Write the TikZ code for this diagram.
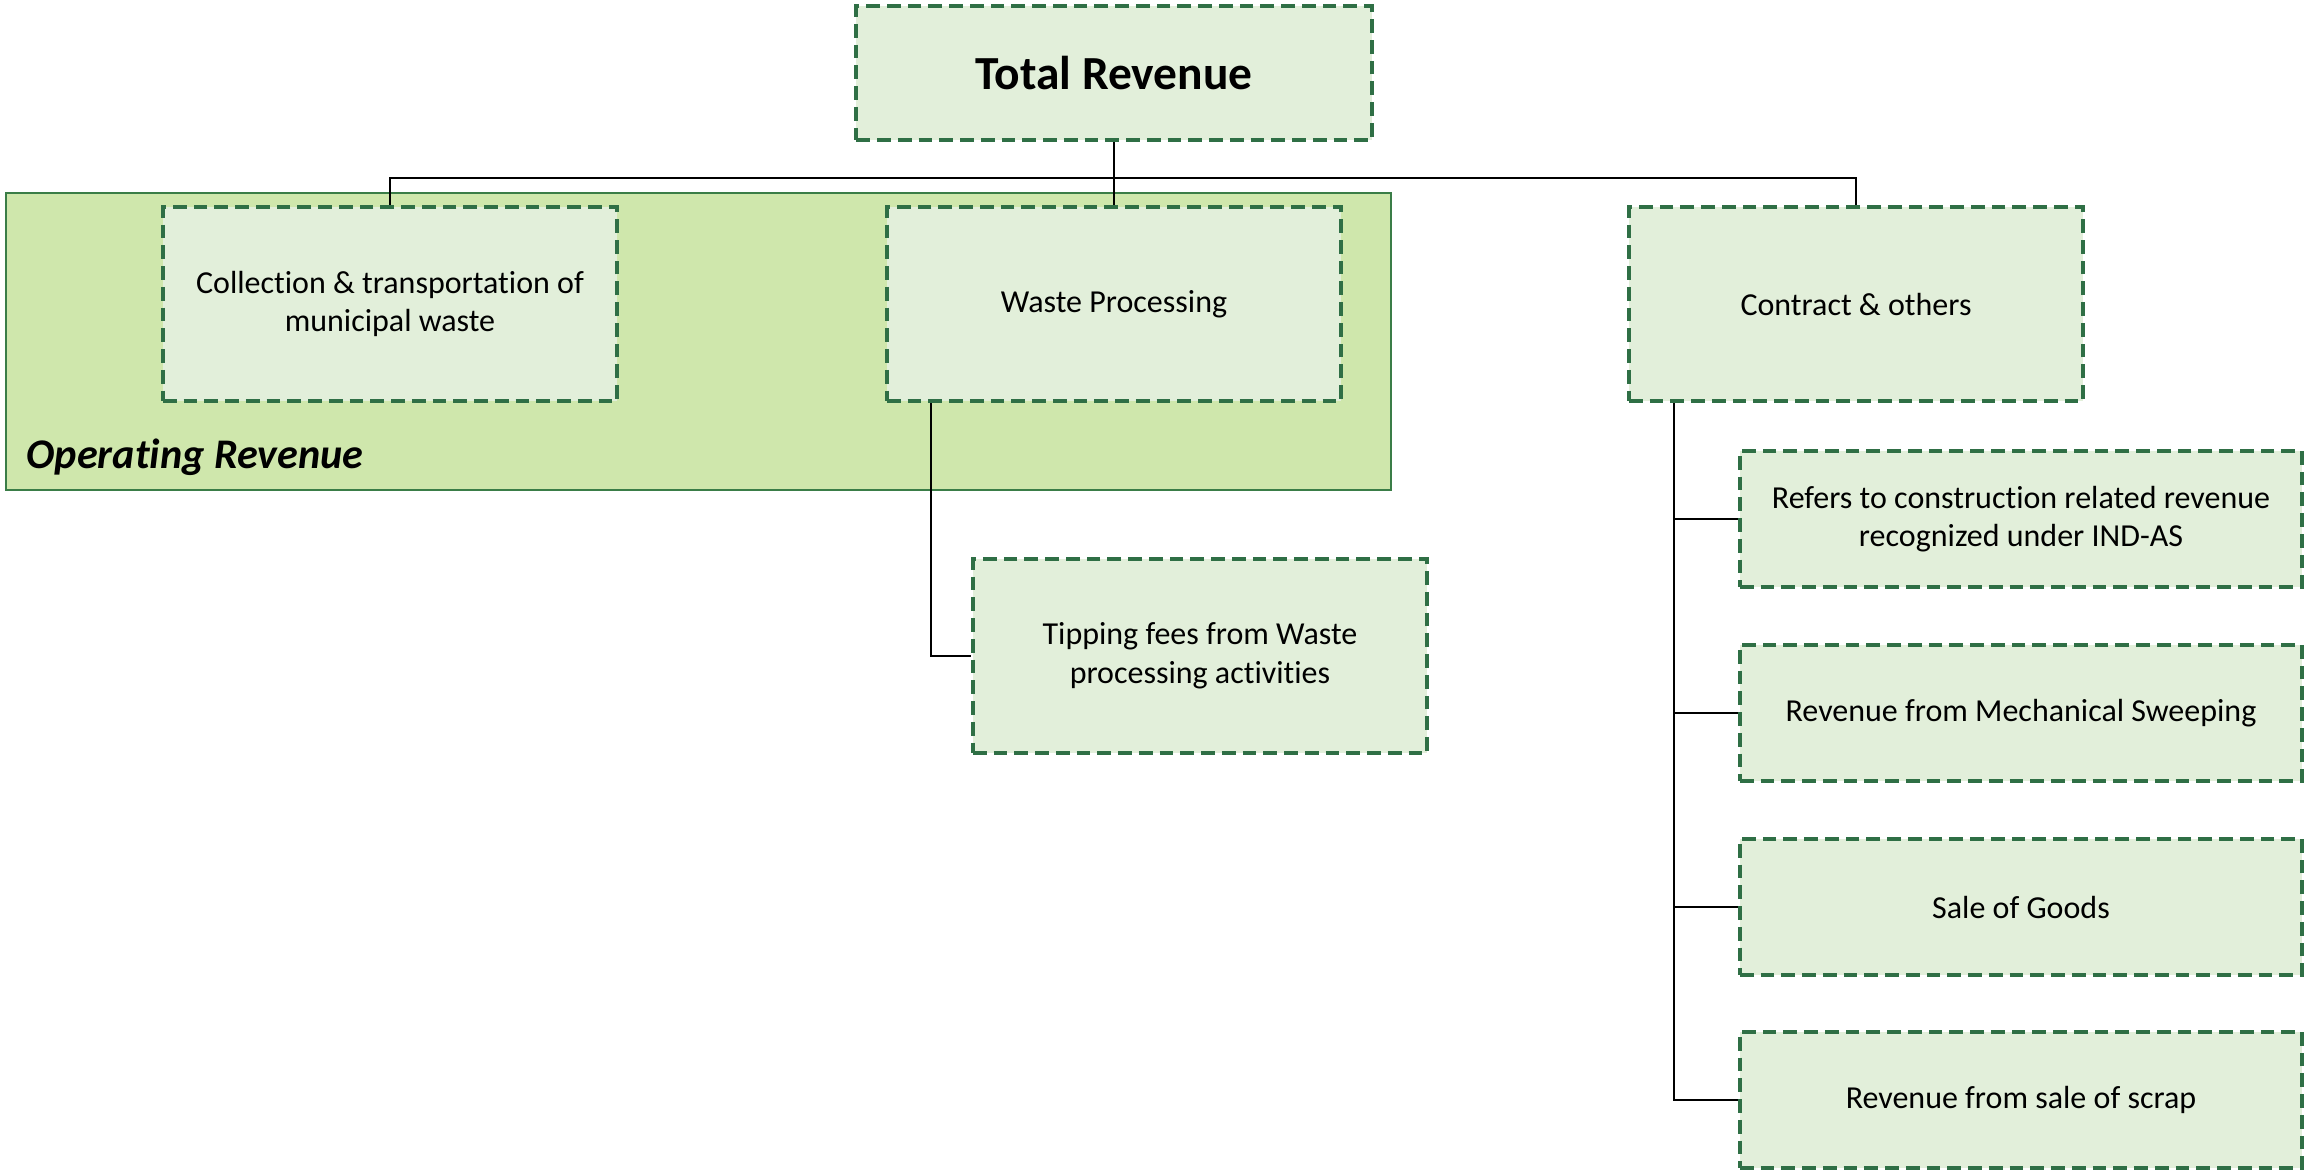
\documentclass[tikz,border=0pt]{standalone}
\usepackage{fontspec}
\setmainfont{Carlito}[Ligatures=NoCommon]
\usetikzlibrary{positioning}

\definecolor{boxfill}{HTML}{E2EFDA}
\definecolor{boxline}{HTML}{2F6F45}
\definecolor{opfill}{HTML}{CFE7AC}
\definecolor{opline}{HTML}{3A7D47}

\tikzset{
	revbox/.style={draw=boxline, fill=boxfill, line width=1.2pt, dash pattern=on 3.9pt off 2pt,
		rectangle, align=center, inner sep=0pt, font=\fontsize{9.1}{11}\selectfont,
		minimum width=4.54cm, minimum height=1.94cm},
	topbox/.style={revbox, minimum width=5.15cm, minimum height=1.34cm, font=\fontsize{13.5}{16}\selectfont\bfseries},
	subbox/.style={revbox, minimum width=5.62cm, minimum height=1.36cm},
	link/.style={draw=black, line width=0.6pt}
}

\begin{document}
\begin{tikzpicture}[x=0.01cm, y=-0.01cm]
	\useasboundingbox (0,0) rectangle (2305,1172);

	% Groups:
	\draw[draw=opline, fill=opfill, line width=0.8pt] (6,193) rectangle (1391,490);
	\node[anchor=west, inner sep=0pt, font=\fontsize{12}{14}\selectfont\bfseries\itshape] (oplabel) at (26,457) {Operating Revenue};

	% Nodes:
	\node[topbox] (total) at (1114,73) {Total Revenue};
	\coordinate (bus) at (1114,178);

	\node[revbox] (collect) at (390,304) {Collection \& transportation of\\municipal waste};
	\node[revbox] (waste) at (1114,304) {Waste Processing};
	\node[revbox] (contract) at (1856,304) {Contract \& others};

	\node[revbox] (tipping) at (1200,656) {Tipping fees from Waste\\processing activities};

	\node[subbox] (indas) at (2021,519) {Refers to construction related revenue\\recognized under IND-AS};
	\node[subbox] (sweep) at (2021,713) {Revenue from Mechanical Sweeping};
	\node[subbox] (goods) at (2021,907) {Sale of Goods};
	\node[subbox] (scrap) at (2021,1100) {Revenue from sale of scrap};

	% Lines:
	\draw[link] (total.south) -- (waste.north);
	\draw[link] (collect.north) |- (bus) -| (contract.north);
	\draw[link] ([xshift=0.46cm]waste.south west) |- (tipping.west);
	\draw[link] ([xshift=0.47cm]contract.south west) |- (indas.west);
	\draw[link] ([xshift=0.47cm]contract.south west) |- (sweep.west);
	\draw[link] ([xshift=0.47cm]contract.south west) |- (goods.west);
	\draw[link] ([xshift=0.47cm]contract.south west) |- (scrap.west);

\end{tikzpicture}
\end{document}
